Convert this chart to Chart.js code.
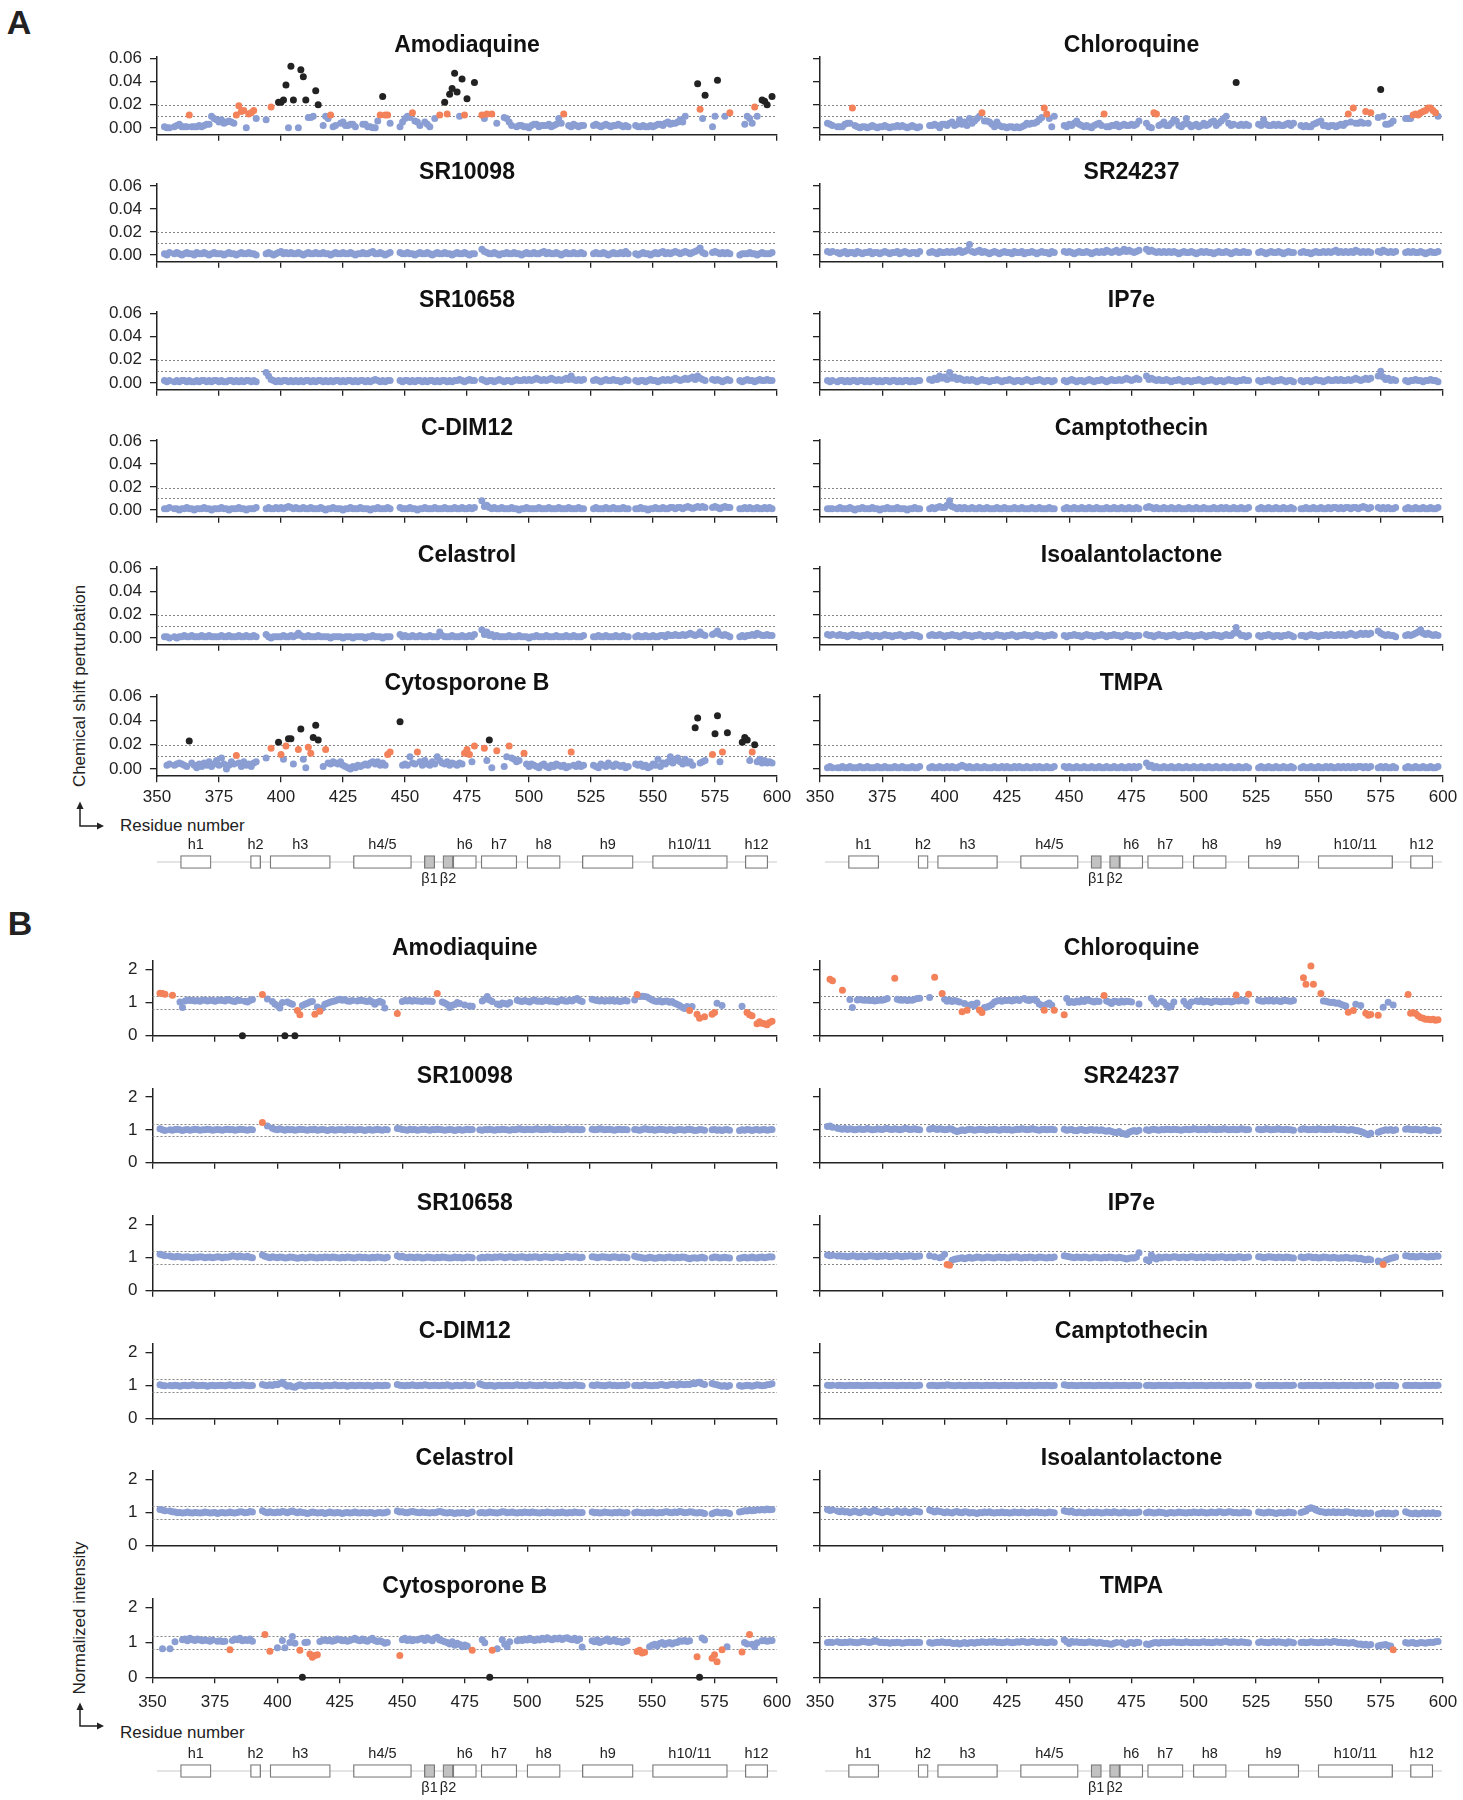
<!DOCTYPE html>
<html>
<head>
<meta charset="utf-8">
<script src="https://cdn.jsdelivr.net/npm/chart.js@4.4.1/dist/chart.umd.min.js"></script>
<style>
  body { margin: 0; width: 1463px; height: 1800px; position: relative; overflow: hidden; background: #fff;
         font-family: "Liberation Sans", Arial, Helvetica, sans-serif; color: #222; }
  canvas { position: absolute; }
  .txt { position: absolute; white-space: nowrap; }
  .letter { font-weight: bold; font-size: 34px; transform: translate(-50%, -50%); }
  .axtitle { font-size: 17px; transform: translate(-50%, -50%) rotate(-90deg); }
  .resno { font-size: 17px; transform: translateY(-50%); }
</style>
</head>
<body>

<div class="txt letter" style="left:19px; top:22px;">A</div>
<div class="txt letter" style="left:20px; top:923px;">B</div>
<div class="txt axtitle" style="left:80px; top:686px;">Chemical shift perturbation</div>
<div class="txt axtitle" style="left:80px; top:1618px;">Normalized intensity</div>
<div class="txt resno" style="left:120px; top:826px;">Residue number</div>
<div class="txt resno" style="left:120px; top:1733px;">Residue number</div>

<svg style="position:absolute; left:0; top:0;" width="140" height="1800">
  <g stroke="#222" stroke-width="1.5" fill="none">
    <path d="M80 808 V826 H98"/>
    <path d="M80 1709 V1726 H98"/>
  </g>
  <g fill="#222">
    <path d="M76.5 809 L80 801.5 L83.5 809 Z"/>
    <path d="M97 822.5 L104 826 L97 829.5 Z"/>
    <path d="M76.5 1710 L80 1702.5 L83.5 1710 Z"/>
    <path d="M97 1722.5 L104 1726 L97 1729.5 Z"/>
  </g>
</svg>

<script>
// assigned residues, in continuous stretches
const residueBlocks = [
  [353, 354, 355],
  [357, 358, 359, 360, 361, 362, 363, 364, 365, 366, 367, 368, 369, 370, 371, 372, 373, 374, 375, 376, 377, 378, 379, 380, 381, 382, 383, 384, 385, 386, 387, 388, 389, 390],
  [394, 395, 396, 397, 398, 399, 400, 401, 402, 403, 404, 405, 406, 407, 408, 409, 410, 411, 412, 413, 414, 415, 416, 417, 418, 419, 420, 421, 422, 423, 424, 425, 426, 427, 428, 429, 430, 431, 432, 433, 434, 435, 436, 437, 438, 439, 440, 441, 442, 443, 444],
  [448, 449, 450, 451, 452, 453, 454, 455, 456, 457, 458, 459, 460, 461, 462, 463, 464, 465, 466, 467, 468, 469, 470, 471, 472, 473, 474, 475, 476, 477, 478],
  [481, 482, 483, 484, 485, 486, 487, 488, 489, 490, 491, 492, 493, 494, 495, 496, 497, 498, 499, 500, 501, 502, 503, 504, 505, 506, 507, 508, 509, 510, 511, 512, 513, 514, 515, 516, 517, 518, 519, 520, 521, 522],
  [526, 527, 528, 529, 530, 531, 532, 533, 534, 535, 536, 537, 538, 539, 540],
  [543, 544, 545, 546, 547, 548, 549, 550, 551, 552, 553, 554, 555, 556, 557, 558, 559, 560, 561, 562, 563, 564, 565, 566, 567, 568, 569, 570, 571],
  [574, 575, 576, 577, 578, 579, 580, 581],
  [585, 586, 587, 588, 589, 590, 591, 592, 593, 594, 595, 596, 597, 598]
];

const residueTicks = [350, 375, 400, 425, 450, 475, 500, 525, 550, 575, 600];
const cspTicks = [0, 0.02, 0.04, 0.06];
const intensityTicks = [0, 1, 2];
const cspCutoffs = [0.0105, 0.0195];
const intensityCutoffs = [0.8, 1.19];

const ligandsLeft = ['Amodiaquine', 'SR10098', 'SR10658', 'C-DIM12', 'Celastrol', 'Cytosporone B'];
const ligandsRight = ['Chloroquine', 'SR24237', 'IP7e', 'Camptothecin', 'Isoalantolactone', 'TMPA'];

const helixLabels = ['h1', 'h2', 'h3', 'h4/5', 'β1', 'β2', 'h6', 'h7', 'h8', 'h9', 'h10/11', 'h12'];
const helixFrom = [359.5, 387.7, 395.6, 429.2, 457.8, 465.3, 469.4, 480.7, 499.2, 521.5, 549.8, 587.2];
const helixTo = [371.8, 391.8, 419.9, 452.6, 462.0, 469.4, 478.8, 495.1, 512.6, 542.0, 580.0, 596.3];

// ---- chemical shift perturbation (ppm) ----
const cspAmodiaquine = [
  [.001,.000,.000],
  [.001,.002,.003,.001,.001,.001,.011,.001,.001,.001, .002,.001,.002,.003,.003,.010,.008,.007,.005,.007, .004,.005,.006,.005,.004,.011,.019,.014,.015,.000, .012,.013,.015,.008],
  [.007,null,.018,null,null,.022,.022,.024,.037,.000, .053,.024,null,.000,.050,.044,.024,.009,.009,.010, .032,.020,null,.002,.010,.008,.011,.001,.002,null, .004,.005,.002,.002,.003,.003,.001,null,null,.003, .003,.001,.001,.000,.000,.006,.011,.027,.011,.011, .004],
  [.001,.005,.008,.010,.009,.013,.006,.005,.002,null, .005,.003,.001,null,.008,null,.011,null,.022,.012, .029,.034,.047,.031,.010,.042,.011,.025,null,null, .039],
  [.011,.008,.012,null,.012,null,.004,null,null,.009, .008,.005,.002,null,.001,.002,.002,.001,.001,.000, .002,.003,.003,.001,.002,.002,.002,.003,.001,.002, .003,.008,.004,.012,null,.002,.001,.003,.002,.001, .002,.002],
  [.002,.003,.002,.001,.002,.003,.002,.001,.002,.002, .003,.002,.001,.002,.001],
  [.002,.001,.001,.002,.001,.001,.002,.001,.002,.003, .003,.002,.004,.005,.003,.004,.004,.005,.007,.005, .010,null,null,null,null,.038,.016,.008,.028],
  [.001,.010,.041,null,null,.010,null,.013],
  [null,null,.003,.010,.008,.004,.018,.010,null,.024, .023,.020,null,.027]
];
const cspChloroquine = [
  [.004,.003,.002],
  [.001,.001,.001,.003,.004,.004,.017,.002,.001,.000, .001,.001,.000,.001,.002,.001,.000,.001,.001,.002, .001,.000,.001,.001,.002,.001,.002,.001,.000,.001, .002,.001,.000,.001],
  [.002,.002,.003,.002,.000,.003,.003,.002,.004,.005, .002,.003,.007,.003,.005,.002,.008,.004,.006,.008, .010,.013,.006,.006,.005,.003,.001,.005,.002,.001, .001,.000,.001,.001,.000,.001,.000,.001,.002,.004, .003,.004,.004,.005,.007,.009,.017,.012,.008,.001, .010],
  [.002,.001,.003,.002,.004,.006,.003,.002,.001,.002, .001,.000,.002,.003,.004,.002,.012,.001,.001,.002, .002,.003,.001,.002,.003,.002,.002,.003,.002,.003, .006],
  [.004,.001,.000,.013,.012,.002,.003,.005,.002,.002, .004,.007,.006,.002,.001,.003,.008,.003,.001,.002, .003,.001,.002,.004,.002,.003,.005,.006,.002,.004, .006,.008,.010,.004,.002,.003,.039,.002,.003,.002, .003,.002],
  [.003,.002,.007,.003,.002,.002,.003,.002,.003,.002, .002,.003,.004,.002,.004],
  [.002,.001,.002,.001,.001,.003,.004,.005,.006,.002, .002,.001,.002,.002,.001,.002,.003,.002,.004,.012, .005,.017,.004,.004,.005,.004,.014,.004,.013],
  [.009,.033,.010,.003,.003,.004,.006,null],
  [.008,.008,.008,.011,.012,.011,.013,.014,.015,.017, .017,.015,.013,.010]
];
const cspSR10098 = [
  [.001,.000,.002],
  [.001,.002,.001,.000,.001,.002,.001,.001,.000,.002, .001,.001,.002,.001,.000,.001,.002,.001,.001,.001, .000,.001,.002,.001,.001,.000,.001,.002,.001,.001, .002,.001,.001,.000],
  [.001,.002,.001,.000,.001,.002,.003,.001,.002,.001, .002,.001,.001,.002,.001,.000,.001,.002,.001,.001, .002,.001,.001,.002,.001,.001,.000,.001,.002,.001, .001,.002,.001,.001,.002,.001,.000,.001,.001,.002, .001,.001,.002,.003,.001,.001,.002,.001,.000,.001, .002],
  [.002,.001,.001,.002,.001,.001,.000,.001,.002,.001, .001,.002,.001,.000,.001,.002,.001,.001,.002,.001, .001,.000,.001,.002,.001,.001,.002,.001,.000,.001, .001],
  [.005,.003,.002,.001,.001,.002,.001,.000,.001,.001, .002,.001,.001,.002,.001,.001,.000,.001,.002,.001, .001,.002,.001,.001,.002,.003,.001,.002,.001,.001, .002,.001,.000,.001,.002,.001,.001,.002,.001,.001, .002,.001],
  [.001,.002,.001,.001,.002,.001,.000,.001,.002,.001, .001,.002,.001,.003,.001],
  [.001,.000,.001,.002,.001,.001,.000,.001,.002,.001, .002,.003,.001,.002,.001,.002,.003,.002,.001,.002, .003,.002,.001,.002,.003,.004,.006,.002,.001],
  [.002,.003,.002,.001,.002,.001,.002,.001],
  [.000,.001,.001,.001,.002,.001,.001,.000,.001,.002, .001,.001,.001,.002]
];
const cspSR24237 = [
  [.003,.002,.003],
  [.002,.001,.002,.003,.001,.002,.002,.001,.003,.002, .001,.002,.002,.003,.001,.002,.002,.001,.002,.003, .002,.001,.002,.002,.003,.001,.002,.003,.002,.001, .002,.002,.001,.003],
  [.002,.003,.002,.001,.003,.002,.002,.003,.002,.003, .002,.003,.004,.002,.003,.004,.009,.003,.002,.003, .004,.002,.003,.002,.001,.002,.003,.002,.001,.002, .003,.002,.002,.001,.003,.002,.002,.003,.001,.002, .002,.003,.002,.001,.002,.003,.002,.002,.001,.003, .002],
  [.003,.002,.003,.002,.001,.002,.003,.002,.002,.003, .002,.001,.002,.003,.002,.003,.002,.004,.003,.002, .003,.004,.002,.003,.005,.003,.004,.003,.002,.003, .004],
  [.005,.003,.004,.003,.002,.003,.002,.003,.002,.003, .002,.003,.002,.001,.002,.003,.002,.002,.003,.002, .001,.002,.003,.002,.003,.002,.002,.001,.002,.003, .002,.002,.003,.002,.001,.002,.003,.002,.002,.003, .002,.002],
  [.002,.003,.002,.001,.002,.003,.002,.002,.003,.002, .001,.002,.003,.002,.002],
  [.002,.003,.002,.002,.001,.002,.003,.002,.002,.003, .002,.003,.002,.003,.004,.002,.003,.002,.003,.002, .003,.002,.004,.003,.002,.003,.002,.003,.002],
  [.003,.002,.004,.003,.002,.003,.002,.003],
  [.002,.003,.002,.003,.002,.002,.003,.002,.001,.002, .003,.002,.002,.003]
];
const cspSR10658 = [
  [.002,.001,.002],
  [.001,.002,.001,.002,.002,.001,.002,.001,.001,.002, .001,.002,.002,.001,.002,.001,.002,.002,.001,.002, .001,.001,.002,.002,.001,.002,.001,.002,.001,.002, .002,.001,.002,.001],
  [.009,.006,.003,.002,.001,.002,.001,.002,.002,.001, .002,.001,.002,.001,.002,.001,.002,.002,.001,.002, .001,.002,.002,.001,.002,.001,.002,.001,.002,.002, .001,.002,.001,.002,.002,.001,.002,.001,.002,.002, .001,.002,.001,.002,.003,.002,.001,.002,.001,.002, .002],
  [.002,.001,.002,.002,.001,.002,.001,.002,.002,.001, .002,.001,.002,.002,.001,.002,.001,.002,.002,.001, .002,.001,.002,.002,.003,.002,.001,.002,.003,.002, .002],
  [.003,.002,.001,.002,.002,.001,.002,.003,.002,.001, .002,.002,.001,.002,.003,.002,.002,.003,.002,.003, .002,.003,.004,.003,.002,.003,.002,.003,.004,.003, .002,.003,.002,.003,.004,.003,.006,.003,.002,.003, .002,.003],
  [.002,.003,.002,.001,.002,.003,.002,.002,.003,.002, .002,.001,.002,.003,.002],
  [.002,.001,.002,.002,.001,.002,.003,.002,.002,.001, .002,.003,.002,.003,.002,.003,.004,.003,.002,.003, .004,.003,.004,.005,.003,.006,.004,.003,.002],
  [.003,.002,.003,.002,.001,.002,.003,.002],
  [.002,.001,.002,.003,.002,.002,.001,.002,.003,.002, .002,.003,.002,.002]
];
const cspIP7e = [
  [.002,.001,.002],
  [.001,.002,.002,.001,.002,.001,.002,.002,.001,.002, .002,.001,.002,.001,.002,.002,.001,.002,.001,.002, .002,.001,.002,.002,.001,.002,.001,.002,.002,.001, .002,.001,.002,.002],
  [.003,.002,.004,.003,.006,.004,.005,.003,.009,.004, .005,.003,.004,.003,.002,.003,.002,.003,.002,.001, .002,.003,.002,.002,.001,.002,.002,.003,.002,.001, .002,.002,.003,.002,.001,.002,.002,.001,.002,.003, .002,.001,.002,.002,.003,.002,.001,.002,.002,.001, .002],
  [.002,.001,.002,.003,.002,.001,.002,.002,.001,.002, .003,.002,.001,.002,.002,.003,.002,.001,.002,.003, .002,.002,.003,.002,.003,.004,.003,.002,.003,.004, .003],
  [.006,.003,.004,.003,.002,.003,.002,.002,.003,.002, .001,.002,.002,.003,.002,.001,.002,.002,.001,.002, .002,.003,.002,.001,.002,.002,.003,.002,.001,.002, .002,.001,.002,.003,.002,.002,.001,.002,.002,.003, .002,.002],
  [.002,.001,.002,.002,.003,.002,.001,.002,.002,.003, .002,.001,.002,.002,.001],
  [.002,.001,.002,.002,.001,.002,.003,.002,.002,.001, .002,.003,.002,.002,.003,.002,.003,.002,.002,.003, .002,.003,.004,.003,.002,.003,.004,.003,.004],
  [.006,.010,.005,.003,.004,.002,.003,.002],
  [.002,.001,.002,.002,.003,.002,.002,.001,.002,.002, .003,.002,.002,.001]
];
const cspCDIM12 = [
  [.001,.001,.002],
  [.001,.001,.000,.001,.001,.002,.001,.001,.000,.001, .001,.001,.002,.001,.001,.000,.001,.001,.001,.002, .001,.001,.000,.001,.001,.001,.002,.001,.001,.000, .001,.001,.001,.002],
  [.001,.002,.001,.001,.002,.001,.002,.001,.002,.003, .002,.001,.002,.001,.001,.002,.001,.001,.002,.001, .001,.001,.002,.001,.000,.001,.001,.002,.001,.001, .001,.000,.001,.001,.002,.001,.001,.001,.002,.001, .001,.001,.000,.001,.001,.002,.001,.001,.001,.002, .001],
  [.002,.001,.001,.001,.002,.001,.001,.000,.001,.001, .002,.001,.001,.001,.002,.001,.001,.001,.002,.001, .001,.001,.002,.001,.001,.002,.001,.001,.002,.001, .002],
  [.008,.003,.004,.002,.001,.002,.001,.001,.002,.001, .001,.001,.002,.001,.001,.000,.001,.001,.002,.001, .001,.001,.001,.002,.001,.001,.001,.002,.001,.001, .001,.002,.001,.001,.001,.002,.001,.001,.001,.002, .001,.001],
  [.001,.002,.001,.001,.001,.002,.001,.001,.002,.001, .001,.001,.002,.001,.001],
  [.001,.001,.002,.001,.001,.000,.001,.001,.002,.001, .001,.002,.001,.001,.002,.002,.001,.002,.002,.001, .002,.003,.002,.001,.002,.003,.002,.003,.002],
  [.002,.003,.002,.001,.002,.003,.002,.002],
  [.001,.001,.002,.001,.002,.001,.001,.002,.001,.001, .002,.001,.002,.001]
];
const cspCamptothecin = [
  [.001,.001,.001],
  [.001,.002,.001,.001,.001,.002,.001,.000,.001,.001, .002,.001,.001,.001,.002,.001,.001,.000,.001,.001, .002,.001,.001,.001,.002,.001,.001,.001,.000,.001, .001,.002,.001,.001],
  [.001,.002,.001,.002,.003,.002,.002,.004,.008,.003, .002,.001,.002,.001,.002,.001,.001,.002,.001,.001, .002,.001,.001,.002,.001,.001,.001,.002,.001,.001, .002,.001,.001,.001,.002,.001,.001,.002,.001,.001, .001,.002,.001,.001,.002,.001,.001,.001,.002,.001, .001],
  [.001,.002,.001,.001,.002,.001,.001,.002,.001,.001, .002,.001,.001,.002,.001,.001,.001,.002,.001,.001, .002,.001,.001,.002,.001,.001,.002,.001,.001,.002, .001],
  [.002,.003,.002,.001,.002,.001,.001,.002,.001,.001, .002,.001,.001,.002,.001,.001,.001,.002,.001,.001, .002,.001,.001,.002,.001,.001,.001,.002,.001,.001, .002,.001,.002,.001,.001,.002,.001,.001,.002,.001, .001,.002],
  [.001,.002,.001,.001,.002,.001,.001,.002,.001,.001, .002,.001,.001,.002,.001],
  [.001,.001,.002,.001,.001,.002,.001,.001,.002,.001, .001,.002,.001,.002,.002,.001,.002,.001,.002,.002, .001,.002,.002,.001,.002,.003,.002,.001,.002],
  [.002,.001,.002,.001,.002,.001,.001,.002],
  [.001,.002,.001,.001,.002,.001,.001,.002,.001,.001, .002,.001,.001,.002]
];
const cspCelastrol = [
  [.001,.001,.000],
  [.001,.000,.001,.001,.002,.001,.001,.002,.001,.001, .001,.002,.001,.001,.002,.001,.001,.001,.001,.002, .001,.001,.002,.001,.001,.001,.002,.001,.001,.002, .001,.001,.002,.001],
  [.003,.001,.000,.001,.001,.001,.001,.002,.001,.001, .002,.001,.002,.004,.002,.001,.001,.002,.001,.001, .001,.002,.001,.001,.001,.001,.000,.001,.001,.001, .001,.000,.001,.001,.001,.000,.001,.001,.001,.001, .000,.001,.001,.002,.001,.001,.001,.000,.001,.001, .001],
  [.003,.001,.002,.001,.001,.002,.001,.001,.002,.001, .001,.001,.002,.001,.001,.001,.005,.002,.001,.001, .001,.002,.001,.001,.001,.002,.001,.001,.002,.001, .003],
  [.007,.003,.005,.002,.003,.001,.002,.001,.001,.001, .001,.002,.001,.001,.001,.002,.001,.001,.001,.000, .001,.001,.002,.001,.001,.001,.002,.001,.001,.001, .002,.001,.001,.001,.002,.001,.001,.002,.001,.001, .001,.002],
  [.001,.001,.002,.001,.001,.002,.001,.001,.001,.002, .001,.001,.002,.001,.001],
  [.001,.002,.001,.001,.002,.001,.001,.002,.001,.001, .002,.002,.001,.003,.002,.002,.003,.002,.002,.003, .002,.003,.004,.003,.002,.003,.005,.003,.002],
  [.003,.004,.006,.003,.002,.003,.002,.001],
  [.001,.002,.001,.002,.002,.003,.002,.004,.003,.002, .002,.003,.002,.002]
];
const cspIsoalantolactone = [
  [.003,.002,.003],
  [.002,.003,.002,.002,.001,.002,.003,.002,.002,.001, .002,.002,.003,.002,.001,.002,.002,.001,.002,.003, .002,.002,.001,.002,.002,.003,.002,.001,.002,.002, .003,.002,.002,.001],
  [.002,.003,.002,.002,.003,.002,.001,.002,.002,.003, .002,.002,.001,.002,.003,.002,.002,.001,.002,.002, .003,.002,.001,.002,.002,.001,.002,.003,.002,.002, .001,.002,.002,.003,.002,.001,.002,.002,.003,.002, .002,.001,.002,.003,.002,.002,.001,.002,.002,.003, .002],
  [.002,.001,.002,.002,.003,.002,.002,.001,.002,.003, .002,.002,.001,.002,.002,.003,.002,.001,.002,.002, .003,.002,.002,.001,.002,.003,.002,.002,.001,.002, .002],
  [.003,.002,.002,.001,.002,.003,.002,.002,.001,.002, .002,.003,.002,.001,.002,.002,.003,.002,.002,.001, .002,.002,.003,.002,.001,.002,.002,.003,.002,.002, .001,.002,.003,.002,.002,.004,.009,.004,.002,.002, .001,.002],
  [.002,.001,.002,.002,.003,.002,.001,.002,.002,.001, .002,.002,.003,.002,.001],
  [.002,.002,.001,.002,.003,.002,.002,.001,.002,.002, .003,.002,.003,.002,.002,.003,.002,.003,.002,.003, .004,.003,.002,.003,.004,.003,.004,.003,.004],
  [.006,.004,.003,.002,.003,.002,.002,.001],
  [.002,.003,.002,.003,.004,.005,.007,.004,.003,.004, .003,.002,.003,.002]
];
const cspCytosporoneB = [
  [null,.003,.004],
  [.003,.004,.005,.004,.003,.002,.023,.005,.003,.001, .004,.002,.005,.003,.006,.002,.004,.007,.003,.009, .004,.000,.003,.006,.004,.011,.005,.002,.006,.003, .004,.002,.005,.006],
  [.009,null,.017,null,null,.022,.012,.008,.019,.025, .025,.004,null,.016,.033,.008,.001,.018,.013,.026, .036,.024,null,.002,.016,.005,.004,.006,.005,.004, .006,.003,.002,.001,.000,.002,.001,.003,.002,.003, .004,.003,.005,.006,.004,.006,.003,.005,.003,.012, .014],
  [.039,.003,.004,.003,.010,.005,.004,.014,.006,.003, .007,.004,.003,.006,.004,.010,.007,.005,.004,.006, .003,.005,.004,.003,.005,.004,.013,.016,.012,.006, .019],
  [null,.017,.007,.024,.001,null,.015,null,null,.002, .010,.019,.009,.008,.006,.007,null,.013,.004,.002, .004,.003,.002,.001,.003,.004,.002,.001,.003,.002, .004,.003,.002,.003,.001,.002,.014,.003,.002,.004, .002,.003],
  [.003,.002,.001,.004,.003,.002,.005,.003,.002,.004, .003,.002,.003,.001,.002],
  [.004,.003,.004,.002,.003,.001,.002,.004,.003,.008, .002,.005,.004,.006,.010,.005,.007,.009,.006,.004, .008,.005,.006,.003,.034,.042,.005,.006,.007],
  [.012,.029,.044,.006,.014,null,.030,null],
  [null,.022,.026,.024,.007,.014,.020,.006,.008,.005, .007,.005,.006,.005]
];
const cspTMPA = [
  [.001,.002,.001],
  [.001,.001,.002,.001,.001,.002,.001,.001,.001,.002, .001,.001,.002,.001,.001,.001,.002,.001,.001,.002, .001,.001,.001,.002,.001,.001,.002,.001,.001,.001, .002,.001,.001,.002],
  [.001,.002,.001,.001,.002,.001,.001,.002,.001,.002, .001,.001,.002,.003,.002,.001,.002,.001,.001,.002, .001,.001,.002,.001,.001,.001,.002,.001,.001,.002, .001,.002,.001,.001,.002,.001,.002,.001,.001,.002, .001,.001,.002,.001,.002,.001,.001,.002,.001,.001, .002],
  [.002,.001,.002,.001,.001,.002,.001,.001,.002,.001, .001,.002,.001,.001,.002,.001,.001,.002,.001,.001, .002,.001,.001,.002,.001,.001,.002,.001,.002,.001, .002],
  [.005,.002,.003,.001,.002,.001,.001,.002,.001,.001, .002,.001,.001,.002,.001,.001,.002,.001,.001,.002, .001,.001,.002,.001,.001,.002,.001,.001,.002,.001, .001,.002,.001,.001,.002,.001,.001,.002,.001,.001, .002,.001],
  [.001,.002,.001,.001,.002,.001,.001,.002,.001,.001, .002,.001,.001,.002,.001],
  [.001,.002,.001,.001,.002,.001,.001,.002,.001,.001, .002,.001,.002,.001,.001,.002,.001,.002,.001,.002, .001,.002,.001,.002,.002,.001,.002,.001,.002],
  [.001,.002,.001,.002,.001,.001,.002,.001],
  [.001,.002,.001,.001,.002,.001,.001,.002,.001,.001, .002,.001,.001,.002]
];

// ---- normalized peak intensity (0 = broadened beyond detection) ----
const intAmodiaquine = [
  [1.28,1.27,1.25],
  [null,1.22,null,null,1.02,.85,1.05,1.08,1.06,1.07, 1.05,1.06,1.04,1.07,1.08,1.05,1.06,1.07,1.04,1.06, 1.08,1.06,1.05,1.09,1.07,1.05,1.03,1.08,1.06,0, 1.04,1.02,1.06,1.09],
  [1.24,null,1.11,null,1.03,.96,.91,.84,1.0,0, 1.02,.98,.95,0,.76,.63,.91,.95,.98,1.02, 1.03,.65,.87,.74,.84,.95,.98,1.01,1.03,1.05, 1.08,1.1,1.07,1.09,1.05,1.04,1.06,null,1.05,1.07, 1.06,1.05,1.03,1.06,1.02,.95,1.01,1.04,1.0,.84, null],
  [.67,null,1.03,1.06,1.05,1.07,1.04,1.06,1.05,1.05, 1.03,1.06,1.04,1.05,1.03,null,1.27,null,1.02,.99, .94,.85,.92,.94,1.0,.97,null,.93,null,.9, .89],
  [null,1.05,1.1,1.18,1.08,1.03,null,.96,.93,.99, .97,.95,1.0,null,null,1.07,1.05,1.03,1.06,1.04, 1.02,1.06,1.08,1.04,1.05,1.03,1.06,1.07,1.04,1.05, 1.03,1.02,1.06,1.08,1.05,1.04,1.07,1.05,1.09,1.12, 1.06,1.03],
  [1.1,1.08,1.06,1.05,1.07,1.04,1.06,1.05,1.08,1.04, 1.06,1.03,1.05,1.07,1.05],
  [1.08,1.24,1.18,1.19,1.18,1.17,1.12,1.08,1.05,1.03, 1.06,1.02,1.04,1.05,1.01,1.03,.98,.95,.91,.86, .82,.88,.76,.88,null,.65,.53,null,.57],
  [.65,.7,.98,null,.91,null,null,null],
  [null,.89,null,.7,.63,.6,null,.36,.42,.38, .36,.33,.4,.44]
];
const intChloroquine = [
  [null,1.7,1.66],
  [null,null,1.37,null,null,1.09,.85,null,1.08,1.09, 1.08,1.07,1.08,1.06,1.07,1.05,1.06,1.08,1.07,1.09, 1.12,null,null,1.73,1.1,1.08,1.07,1.09,1.06,1.08, 1.07,1.1,1.12,1.13],
  [1.15,null,1.76,null,null,1.27,1.1,1.04,1.08,1.03, 1.06,1.04,1.02,.72,.97,.77,.92,.95,.9,.99, .78,.7,.85,.87,.9,.94,1.02,1.05,1.06,1.04, 1.07,1.06,1.08,1.05,1.07,1.1,1.06,null,1.12,1.08, 1.06,1.09,1.1,1.05,.96,.92,.77,.95,.99,.92, .77],
  [.63,1.12,1.0,1.03,1.0,1.05,1.02,1.07,1.03,1.09, 1.06,1.04,1.02,1.05,1.03,null,1.21,1.05,1.02,.97, 1.04,1.03,1.0,1.05,1.02,1.04,1.03,1.02,null,null, .96],
  [null,null,1.13,1.04,.96,null,1.03,1.0,.92,.86, .9,1.02,null,null,null,1.04,.95,.9,1.02,null, 1.05,1.03,1.06,1.02,1.04,1.03,1.0,1.04,1.05,1.03, 1.02,1.04,1.03,1.05,1.02,1.04,1.23,1.05,1.08,1.06, 1.04,1.25],
  [1.07,1.05,1.04,1.06,1.05,1.07,1.04,1.06,1.05,1.03, 1.07,1.06,1.05,1.04,1.06],
  [null,1.75,1.55,null,2.1,1.55,null,null,1.27,1.05, 1.04,1.02,1.0,1.01,.98,.99,.95,.92,.9,.71, null,.76,.95,null,.91,null,.68,.62,.64],
  [.62,null,.86,null,1.01,null,.93,null],
  [null,1.24,.68,.7,.67,.6,.55,.53,.5,.5, .48,.5,.47,.48]
];
const intSR10098 = [
  [1.03,1.0,.98],
  [1.0,.99,1.01,1.02,1.0,.98,1.0,1.01,.99,1.0, 1.02,1.01,.99,1.0,1.0,1.02,1.01,.99,1.0,1.01, 1.0,.99,1.01,1.02,1.0,1.01,.99,1.0,1.02,1.01, 1.0,.99,1.01,1.0],
  [1.22,null,1.12,null,1.05,1.02,1.0,1.03,1.01,.99, 1.02,1.0,1.01,.99,1.0,1.02,1.01,1.0,.99,1.01, 1.0,1.02,.99,1.0,1.01,1.0,.98,1.0,1.01,.99, 1.0,1.01,1.0,.99,1.02,1.0,1.01,.99,1.0,1.01, 1.0,.98,1.0,1.01,.99,1.0,1.02,1.0,.99,1.01, 1.0],
  [1.04,1.03,1.01,1.0,.99,1.02,1.0,1.01,.99,1.0, 1.01,1.02,1.0,.99,1.01,1.0,1.02,1.01,1.0,.99, 1.0,1.01,1.0,.98,1.0,1.01,.99,1.0,1.02,1.0, 1.01],
  [1.0,.99,1.01,1.0,1.02,1.0,.99,1.01,1.0,1.02, 1.01,1.0,.99,1.01,1.0,1.02,1.03,1.01,1.0,1.02, 1.01,1.0,1.02,1.03,1.01,1.0,1.02,1.01,1.03,1.02, 1.0,1.01,1.02,1.0,1.01,1.03,1.02,1.0,1.01,1.02, 1.0,1.01],
  [1.02,1.0,1.01,1.03,1.02,1.0,1.01,1.02,1.0,.99, 1.01,1.02,1.0,1.01,1.0],
  [1.01,1.0,.99,1.01,1.03,1.02,1.0,1.01,.99,1.0, 1.02,1.01,1.0,.99,1.01,1.0,.98,1.0,1.01,1.0, .99,1.01,1.02,1.0,.98,.99,1.01,1.0,.99],
  [1.0,1.01,.99,1.0,.98,1.0,1.01,.99],
  [.98,1.0,.99,1.01,1.0,.98,1.0,1.01,.99,1.0, 1.01,.99,1.0,1.01]
];
const intSR24237 = [
  [1.1,1.12,1.08],
  [1.05,1.03,1.02,1.04,1.01,1.03,1.02,1.0,1.02,1.03, 1.01,1.02,1.04,1.02,1.0,1.01,1.03,1.02,1.01,1.03, 1.04,1.02,1.01,1.03,1.02,1.0,1.02,1.04,1.03,1.01, 1.02,1.03,1.01,1.0],
  [1.02,1.04,1.03,1.01,1.03,1.02,1.0,1.01,1.03,1.02, .98,.95,.97,1.0,.98,1.0,1.02,1.01,.99,1.0, 1.02,1.01,1.0,.99,1.01,1.0,1.02,1.0,.99,1.01, 1.02,1.0,1.01,.99,1.0,1.02,1.01,1.03,1.02,1.0, 1.01,1.03,1.02,1.0,.99,1.01,1.02,1.0,1.01,1.02, 1.0],
  [1.02,.99,1.0,1.01,.98,.97,1.0,1.01,.99,.98, 1.0,1.01,.99,1.0,.98,1.0,.97,.96,.98,.95, .93,.92,.95,.9,.88,.86,.93,.96,.98,.95, .99],
  [1.0,.98,1.01,1.02,1.0,.99,1.01,1.0,1.02,1.01, 1.0,1.02,1.01,1.0,.99,1.01,1.02,1.0,1.01,1.03, 1.02,1.0,1.01,1.02,1.0,1.03,1.02,1.01,1.0,1.02, 1.01,1.03,1.02,1.0,1.01,1.02,1.0,1.01,1.03,1.02, 1.0,1.01],
  [1.02,1.0,1.01,1.03,1.02,1.0,1.01,1.02,1.03,1.01, 1.0,1.02,1.01,1.0,.99],
  [1.01,1.03,1.02,1.0,1.01,1.02,1.0,1.03,1.02,1.01, 1.0,1.02,1.01,1.03,1.02,1.0,1.01,1.02,1.0,.99, 1.01,1.0,.98,.97,.95,.92,.88,.85,.9],
  [.93,.96,.98,1.0,.99,1.01,.98,1.0],
  [1.02,1.03,1.01,1.0,1.02,1.01,.99,1.0,1.02,.98, .97,1.0,.99,.98]
];
const intSR10658 = [
  [1.1,1.08,1.06],
  [1.05,1.03,1.02,1.04,1.03,1.01,1.02,1.03,1.01,1.0, 1.02,1.01,1.03,1.02,1.0,1.01,1.02,1.0,1.01,1.03, 1.02,1.0,1.02,1.01,1.03,1.06,1.04,1.02,1.05,1.03, 1.02,1.04,1.01,1.0],
  [1.08,1.04,1.02,1.0,1.03,1.01,1.0,1.02,1.01,.99, 1.0,1.02,1.01,1.0,.98,1.0,1.01,.99,1.0,1.02, 1.01,1.0,.99,1.01,1.0,1.02,1.01,1.0,1.02,1.01, 1.0,.99,1.01,1.0,1.02,1.01,1.0,.99,1.01,1.02, 1.0,1.01,1.0,.99,1.01,1.0,1.02,1.01,1.0,.99, 1.01],
  [1.06,1.02,1.04,1.01,1.0,1.02,1.01,1.0,1.02,1.01, .99,1.0,1.02,1.01,1.0,.99,1.01,1.0,1.02,1.01, 1.0,.99,1.0,1.02,1.0,1.01,.99,1.0,1.02,1.01, 1.0],
  [.99,1.01,1.0,1.02,1.01,1.0,1.02,1.01,1.03,1.02, 1.0,1.01,1.03,1.02,1.0,1.01,1.02,1.03,1.01,1.0, 1.02,1.01,1.03,1.02,1.0,1.01,1.03,1.02,1.01,1.0, 1.02,1.03,1.01,1.0,1.02,1.04,1.02,1.01,1.03,1.02, 1.0,1.01],
  [1.03,1.02,1.0,1.01,1.03,1.02,1.01,1.0,1.02,1.03, 1.01,1.0,1.02,1.01,1.0],
  [1.04,1.02,1.01,1.0,.98,.99,1.01,1.0,.98,.99, 1.01,1.0,.99,1.01,1.02,1.0,.99,1.01,1.0,1.02, 1.01,.99,.97,.99,1.0,.98,1.0,1.01,.99],
  [1.0,1.02,1.01,.99,1.0,1.01,1.0,.99],
  [.98,1.0,1.01,.99,1.0,1.02,1.0,.99,1.01,1.02, 1.0,1.01,1.03,1.02]
];
const intIP7e = [
  [1.08,1.06,1.07],
  [1.05,1.06,1.04,1.05,1.03,1.04,1.06,1.05,1.03,1.04, 1.05,1.03,1.04,1.06,1.05,1.04,1.03,1.05,1.04,1.06, 1.05,1.03,1.04,1.05,1.06,1.04,1.03,1.05,1.04,1.06, 1.05,1.03,1.04,1.05],
  [1.06,null,1.03,null,1.0,1.02,1.1,.79,.77,.92, .95,.97,.98,1.0,.97,.99,1.01,.98,1.0,1.02, 1.01,.99,1.0,1.02,1.01,1.0,.99,1.01,1.02,1.0, 1.01,.99,1.0,1.02,1.01,1.03,1.0,.99,1.01,1.0, 1.02,1.01,.99,1.0,1.02,1.01,1.0,.99,1.01,1.0, 1.02],
  [1.06,1.04,1.03,1.01,1.0,1.02,1.01,1.0,1.02,1.01, .99,1.0,1.02,1.01,1.0,.99,1.01,1.0,1.02,1.01, 1.0,.99,1.01,1.0,.98,.96,.98,1.0,.99,1.02, 1.15],
  [.94,.9,1.08,1.0,.96,1.02,.99,1.01,1.02,1.0, 1.01,1.03,1.02,1.0,1.01,1.02,1.0,1.01,1.03,1.02, 1.0,1.01,1.02,1.0,1.03,1.02,1.01,1.0,1.02,1.01, 1.03,1.02,1.0,1.01,1.02,1.0,1.01,1.03,1.02,1.0, 1.01,1.02],
  [1.03,1.02,1.0,1.01,1.03,1.02,1.01,1.0,1.02,1.01, 1.0,1.02,1.01,1.0,.99],
  [1.02,1.0,1.01,1.03,1.02,1.0,1.01,.99,1.0,1.02, 1.01,1.0,.99,1.01,1.0,.98,1.0,.99,1.01,1.0, .98,.99,1.0,.97,.98,.95,.93,.96,.94],
  [.9,.88,.79,.92,.95,.98,1.0,1.02],
  [1.06,1.05,1.03,1.04,1.02,1.03,1.05,1.04,1.03,1.02, 1.04,1.03,1.05,1.04]
];
const intCDIM12 = [
  [1.02,1.0,.99],
  [1.0,.99,1.01,1.0,.98,1.0,1.01,.99,1.0,1.02, 1.01,.99,1.0,1.01,1.0,.98,1.0,1.01,.99,1.0, 1.01,1.0,.99,1.01,1.02,1.0,.99,1.01,1.0,1.02, 1.01,1.0,.99,1.0],
  [1.03,1.01,1.0,1.02,1.0,1.04,1.02,1.06,1.1,1.03, .98,1.0,.96,.95,.99,1.02,1.0,.98,1.0,1.01, .99,1.0,1.01,1.0,.98,1.0,1.01,.99,1.0,1.02, 1.0,.99,1.01,1.0,.98,1.0,1.01,.99,1.0,1.01, 1.0,.99,1.01,1.0,.98,1.0,1.01,1.0,.99,1.01, 1.0],
  [1.03,1.01,1.0,.99,1.01,1.0,1.02,1.0,.99,1.01, 1.0,1.02,1.01,.99,1.0,1.01,1.0,.99,1.01,1.0, 1.02,1.0,.98,1.0,1.01,.99,1.0,1.02,1.0,.99, 1.0],
  [1.05,1.02,1.0,.99,1.01,1.0,.98,1.0,1.01,.99, 1.0,1.01,1.0,.99,1.01,1.02,1.0,1.01,.99,1.0, 1.02,1.01,1.0,.99,1.01,1.0,1.02,1.01,1.0,.99, 1.01,1.0,1.02,1.01,1.0,.99,1.01,1.0,1.02,1.01, 1.0,.99],
  [1.01,1.0,1.02,1.01,1.0,.99,1.01,1.02,1.0,1.01, .99,1.0,1.01,1.0,1.02],
  [1.0,1.01,.99,1.0,1.02,1.01,1.0,.99,1.01,1.0, 1.02,1.03,1.01,1.0,1.02,1.04,1.03,1.01,1.05,1.03, 1.02,1.04,1.03,1.06,1.05,1.08,1.1,1.05,1.03],
  [1.06,1.04,1.02,1.0,.98,1.0,.97,1.0],
  [1.0,.98,.99,1.01,1.0,.98,1.0,1.02,1.01,.99, 1.0,1.02,1.03,1.05]
];
const intCamptothecin = [
  [1.01,1.0,1.01],
  [1.0,1.01,1.0,.99,1.0,1.01,1.0,1.0,1.01,1.0, .99,1.0,1.01,1.0,1.0,1.01,1.0,.99,1.0,1.01, 1.0,1.0,1.01,1.0,.99,1.0,1.01,1.0,1.0,1.01, 1.0,.99,1.0,1.01],
  [1.0,1.01,1.0,.99,1.0,1.01,1.0,1.02,1.01,1.0, .99,1.0,1.01,1.0,.99,1.0,1.01,1.0,1.0,1.01, 1.0,.99,1.0,1.01,1.0,1.0,1.01,1.0,.99,1.0, 1.01,1.0,1.0,1.01,1.0,.99,1.0,1.01,1.0,1.0, 1.01,1.0,.99,1.0,1.01,1.0,1.0,1.01,1.0,.99, 1.0],
  [1.02,1.01,1.0,1.01,1.0,.99,1.0,1.01,1.0,1.0, 1.01,1.0,.99,1.0,1.01,1.0,1.0,1.01,1.0,.99, 1.0,1.01,1.0,1.0,1.01,1.0,.99,1.0,1.01,1.0, 1.0],
  [1.0,1.01,1.0,.99,1.0,1.01,1.0,1.0,1.01,1.0, .99,1.0,1.01,1.0,1.0,1.01,1.0,.99,1.0,1.01, 1.0,1.0,1.01,1.0,.99,1.0,1.01,1.0,1.0,1.01, 1.0,.99,1.0,1.01,1.0,1.0,1.01,1.0,.99,1.0, 1.01,1.0],
  [1.01,1.0,.99,1.0,1.01,1.0,1.0,1.01,1.0,.99, 1.0,1.01,1.0,1.0,1.01],
  [1.0,.99,1.0,1.01,1.0,1.0,1.01,1.0,.99,1.0, 1.01,1.0,1.0,1.01,1.0,.99,1.0,1.01,1.0,1.0, 1.01,1.0,.99,1.0,1.01,1.0,1.0,1.01,1.0],
  [.99,1.0,1.01,1.0,1.0,1.01,1.0,.99],
  [1.0,1.01,1.0,1.0,1.01,1.0,.99,1.0,1.01,1.0, 1.0,1.01,1.0,1.01]
];
const intCelastrol = [
  [1.1,1.08,1.06],
  [1.05,1.03,1.02,1.0,1.01,.99,1.0,1.02,1.0,.99, 1.01,1.0,.99,1.0,1.02,1.01,.99,1.0,1.01,.98, 1.0,1.01,.99,1.0,1.02,1.0,.99,1.01,1.03,1.02, 1.0,1.01,1.04,1.02],
  [1.06,1.02,1.0,1.03,1.01,1.0,1.02,1.01,1.04,1.02, 1.0,1.03,1.05,1.02,1.0,1.03,1.01,1.0,.98,1.0, 1.02,1.01,.99,1.0,1.01,.98,1.0,1.02,1.0,.99, 1.01,1.0,.98,1.0,1.01,.99,1.0,1.02,1.0,.99, 1.01,1.0,.99,1.01,1.0,.98,1.0,1.01,.99,1.0, 1.02],
  [1.05,1.02,1.03,1.01,1.0,1.02,1.04,1.02,1.01,1.0, 1.02,1.01,1.0,.99,1.01,1.0,1.02,1.04,1.02,1.0, .99,1.01,1.0,.98,1.0,.99,1.01,1.0,.98,1.0, 1.02],
  [1.0,1.01,.99,1.0,1.02,1.01,1.0,.99,1.01,1.03, 1.02,1.0,1.01,1.02,1.0,.99,1.01,1.0,1.02,1.01, 1.0,1.02,1.01,1.0,.99,1.01,1.0,1.02,1.01,1.0, .99,1.01,1.0,1.02,1.0,.99,1.01,1.0,1.02,1.01, 1.0,1.01],
  [1.02,1.0,1.01,.99,1.0,1.02,1.01,1.0,.99,1.01, 1.0,1.02,1.0,.99,1.01],
  [1.0,1.02,1.01,1.0,.99,1.01,1.0,1.02,1.0,.99, 1.01,1.0,1.02,1.03,1.01,1.0,1.02,1.01,1.04,1.02, 1.0,1.01,1.03,1.02,1.0,.99,1.01,1.0,.98],
  [.97,1.0,1.02,1.0,.99,1.01,1.0,.98],
  [1.02,1.04,1.06,1.05,1.08,1.06,1.07,1.09,1.08,1.1, 1.08,1.11,1.09,1.1]
];
const intIsoalantolactone = [
  [1.1,1.07,1.09],
  [1.05,1.03,1.06,1.02,1.04,1.0,1.03,1.05,1.02,1.0, 1.04,1.06,1.03,1.01,1.05,1.08,1.04,1.02,1.0,1.03, 1.05,1.02,1.0,1.04,1.06,1.03,1.01,1.05,1.02,1.0, 1.03,1.06,1.04,1.02],
  [1.08,1.05,1.02,1.06,1.04,1.02,1.0,1.03,1.01,.99, 1.02,1.04,1.01,1.0,1.03,1.02,.99,1.01,1.0,.98, 1.01,1.0,1.02,1.01,1.03,1.0,.99,1.01,1.0,1.02, 1.0,1.01,.99,1.0,1.02,1.01,1.0,1.02,1.01,.99, 1.0,1.02,1.01,1.03,1.0,1.01,.99,1.0,1.02,1.01, 1.0],
  [1.06,1.04,1.02,1.05,1.01,1.0,1.02,1.01,.99,1.0, 1.02,1.01,1.0,1.02,1.01,.99,1.0,1.02,1.01,1.0, 1.03,1.01,.99,1.0,1.02,1.01,.99,1.0,1.01,1.0, 1.02],
  [1.0,1.02,1.01,.99,1.0,1.02,1.01,1.0,.98,1.0, 1.01,.99,1.0,1.02,1.01,1.0,.99,1.01,1.0,1.02, 1.01,1.0,1.02,1.01,.99,1.0,1.02,1.01,1.0,1.03, 1.02,1.0,1.01,1.03,1.02,1.0,1.01,.99,1.0,1.02, 1.01,1.0],
  [1.02,1.01,.99,1.0,1.02,1.01,1.0,.98,1.0,1.01, .99,1.0,1.02,1.01,1.0],
  [1.01,1.03,1.05,1.12,1.15,1.13,1.08,1.05,1.03,1.02, 1.0,1.02,1.01,1.03,1.0,1.02,1.01,1.0,1.03,1.02, 1.0,1.01,.98,1.0,.99,.97,1.0,.98,.99],
  [.96,.98,1.0,.97,.99,.98,.96,.99],
  [1.03,1.0,.98,.97,.99,.96,.98,1.0,.97,.99, .98,1.0,.97,.98]
];
const intCytosporoneB = [
  [null,.82,null],
  [.82,null,1.02,null,null,1.08,1.1,1.05,1.12,1.08, 1.06,1.1,1.07,1.05,1.08,1.06,1.04,1.07,null,1.04, 1.05,1.03,1.04,null,.79,1.06,1.1,1.08,1.12,1.05, 1.08,1.06,1.1,1.04],
  [null,1.23,null,.75,null,null,.85,null,1.06,.85, null,1.0,1.17,.98,null,.78,0,1.0,1.01,.67, .58,.63,.65,1.03,1.06,1.08,1.05,1.07,1.04,1.06, 1.1,1.08,1.05,1.07,1.04,1.06,1.09,1.12,1.07,1.05, 1.1,1.06,1.04,1.08,1.12,1.06,1.03,1.05,1.02,.98, 1.0],
  [null,.63,1.08,1.12,1.06,1.1,1.05,1.08,1.07,1.1, 1.12,1.06,1.14,1.09,1.05,1.12,1.15,1.07,1.05,1.02, 1.0,.96,1.02,.92,.98,.94,.88,.93,.9,null, .78],
  [null,1.08,.99,null,0,.78,null,.82,null,1.08, .95,.88,1.02,null,null,1.05,1.08,1.06,1.1,1.07, 1.12,1.08,1.06,1.1,1.07,1.12,1.09,1.14,1.1,1.08, 1.12,1.1,1.13,1.09,1.12,1.14,1.1,1.08,1.12,1.06, 1.1,.87],
  [1.05,1.02,1.08,1.0,1.04,1.06,1.1,1.03,1.05,1.08, 1.02,1.04,1.0,1.03,1.05],
  [null,.74,.78,.7,.72,null,.88,.92,.95,.9, .97,1.0,.94,.98,1.0,.96,.99,1.0,1.05,1.04, 1.06,1.03,1.05,null,null,.59,0,1.13,1.07],
  [.55,.65,.45,null,.79,null,.88,null],
  [null,.73,1.0,.96,1.23,.95,.88,.99,null,1.05, 1.06,1.04,1.05,1.06]
];
const intTMPA = [
  [1.0,1.01,1.0],
  [1.02,1.0,.99,1.01,1.0,1.02,1.01,1.0,.99,1.01, 1.03,1.02,1.01,1.0,1.02,1.06,1.03,1.0,1.01,.99, 1.0,.98,1.0,.99,1.01,1.0,.98,.99,1.0,1.01, 1.0,.99,1.01,1.0],
  [1.0,.98,.99,1.01,1.0,1.02,1.0,.99,1.01,.98, .97,.99,.96,.98,1.0,.97,.99,1.0,.98,1.01, 1.0,1.02,1.01,1.0,1.02,1.01,1.03,1.0,1.01,.99, 1.0,1.02,1.01,.99,1.0,1.02,1.01,1.03,1.02,1.0, 1.01,1.03,1.02,1.0,1.01,1.02,1.0,.99,1.01,1.02, 1.0],
  [1.08,1.02,.97,1.03,1.01,1.02,1.0,1.01,.99,1.0, 1.02,1.01,1.0,.98,1.0,.99,.97,.98,.96,.95, .98,1.0,null,1.0,.96,.94,.99,1.0,.97,1.01, 1.0],
  [.96,.94,.97,.99,1.0,.98,1.01,1.0,.99,1.0, 1.01,1.02,1.0,1.01,.99,1.0,1.02,1.0,.99,1.01, 1.0,.99,1.01,1.02,1.0,1.01,.99,1.0,1.02,1.01, 1.0,1.02,1.03,1.01,1.0,1.02,1.01,1.0,1.02,1.01, 1.0,.99],
  [1.0,1.02,1.01,1.0,.99,1.01,1.03,1.0,1.02,1.01, 1.0,.98,1.02,1.01,.99],
  [1.0,1.01,.99,1.0,1.02,1.01,1.0,.99,1.01,1.0, 1.02,1.01,1.0,1.03,1.02,1.0,1.01,.99,1.0,.98, .99,1.0,.97,.95,.96,.93,.95,.92,.94],
  [.9,.92,.93,.94,.91,.9,.79,null],
  [1.0,.98,.99,1.0,.97,.98,1.0,.99,.98,1.0, 1.01,1.0,1.02,1.03]
];

const cspByLigand = {
  'Amodiaquine': cspAmodiaquine, 'Chloroquine': cspChloroquine, 'SR10098': cspSR10098, 'SR24237': cspSR24237,
  'SR10658': cspSR10658, 'IP7e': cspIP7e, 'C-DIM12': cspCDIM12, 'Camptothecin': cspCamptothecin,
  'Celastrol': cspCelastrol, 'Isoalantolactone': cspIsoalantolactone, 'Cytosporone B': cspCytosporoneB, 'TMPA': cspTMPA
};
const intensityByLigand = {
  'Amodiaquine': intAmodiaquine, 'Chloroquine': intChloroquine, 'SR10098': intSR10098, 'SR24237': intSR24237,
  'SR10658': intSR10658, 'IP7e': intIP7e, 'C-DIM12': intCDIM12, 'Camptothecin': intCamptothecin,
  'Celastrol': intCelastrol, 'Isoalantolactone': intIsoalantolactone, 'Cytosporone B': intCytosporoneB, 'TMPA': intTMPA
};

Chart.defaults.font.family = '"Liberation Sans", Arial, Helvetica, sans-serif';
Chart.defaults.color = '#222';

const BLUE = '#8a9ed3';
const ORANGE = '#f3815a';
const BLACK = '#222222';
const INK = '#222';
const HIDDEN = 'rgba(0,0,0,0)';

const ROW_STEP = 127.6;
const LEFT_END = 777;
const RIGHT_START = 820;
const RIGHT_END = 1443;

const sections = [
  { byLigand: cspByLigand, top: 56.5, height: 81.7, leftStart: 157, min: -0.006, max: 0.0615,
    ticks: cspTicks, fmt: v => v.toFixed(2), cut: cspCutoffs, csp: true, xPad: 5, titleGap: 11 },
  { byLigand: intensityByLigand, top: 960.7, height: 78.6, leftStart: 152.5, min: 0, max: 2.26,
    ticks: intensityTicks, fmt: v => String(v), cut: intensityCutoffs, csp: false, xPad: 9, titleGap: 12 }
];

function pointsOf(blocks) {
  const pts = [];
  residueBlocks.forEach((res, b) => {
    res.forEach((r, i) => {
      const v = blocks[b] ? blocks[b][i] : null;
      if (v !== null && v !== undefined) pts.push({ x: r, y: v });
    });
  });
  return pts;
}

function classify(points, sec) {
  const black = [], orange = [], blue = [];
  const [lo, hi] = sec.cut;
  points.forEach(p => {
    if (sec.csp) {
      if (p.y > hi) black.push(p);
      else if (p.y > lo) orange.push(p);
      else blue.push(p);
    } else {
      if (p.y === 0) black.push(p);
      else if (p.y > hi || p.y < lo) orange.push(p);
      else blue.push(p);
    }
  });
  return [black, orange, blue];
}

const cutoffLines = {
  id: 'cutoffLines',
  beforeDatasetsDraw(chart, args, opts) {
    const { ctx, chartArea: a } = chart;
    const y = chart.scales.y;
    ctx.save();
    ctx.strokeStyle = '#858585';
    ctx.lineWidth = 1;
    ctx.setLineDash([2, 2]);
    opts.values.forEach(v => {
      const py = Math.round(y.getPixelForValue(v)) + 0.5;
      ctx.beginPath();
      ctx.moveTo(a.left, py);
      ctx.lineTo(a.right, py);
      ctx.stroke();
    });
    ctx.restore();
  }
};

const panelTitle = {
  id: 'panelTitle',
  afterDraw(chart, args, opts) {
    const { ctx, chartArea: a } = chart;
    ctx.save();
    ctx.font = 'bold 23px "Liberation Sans", Arial, Helvetica, sans-serif';
    ctx.fillStyle = '#111';
    ctx.textAlign = 'center';
    ctx.textBaseline = 'middle';
    ctx.fillText(opts.text, (a.left + a.right) / 2, a.top - opts.gap);
    ctx.restore();
  }
};

function addCanvas(left, top, w, h) {
  const cv = document.createElement('canvas');
  cv.width = w;
  cv.height = h;
  cv.style.left = left + 'px';
  cv.style.top = top + 'px';
  cv.style.width = w + 'px';
  cv.style.height = h + 'px';
  document.body.appendChild(cv);
  return cv;
}

function makePanel(sec, col, row, name) {
  const plotTop = sec.top + row * ROW_STEP;
  const plotLeft = col === 0 ? sec.leftStart : RIGHT_START;
  const plotRight = col === 0 ? LEFT_END : RIGHT_END;
  const bottomRow = row === 5;
  const cvLeft = col === 0 ? 80 : 790;
  const cvTop = Math.floor(plotTop) - 34;
  const padTop = plotTop - cvTop;
  const xH = bottomRow ? 40 : 12;
  const w = Math.ceil(plotRight - cvLeft) + 28;
  const h = Math.ceil(padTop + sec.height + xH) + 2;
  const cv = addCanvas(cvLeft, cvTop, w, h);

  const yW = plotLeft - cvLeft;
  const [black, orange, blue] = classify(pointsOf(sec.byLigand[name]), sec);
  const ds = (data, color) => ({
    data, backgroundColor: color, borderWidth: 0,
    pointRadius: 3.5, pointHoverRadius: 3.5, clip: false
  });

  new Chart(cv, {
    type: 'scatter',
    data: { datasets: [ds(black, BLACK), ds(orange, ORANGE), ds(blue, BLUE)] },
    options: {
      responsive: false,
      animation: false,
      devicePixelRatio: 1,
      events: [],
      layout: { padding: { top: padTop, left: 0, right: w - (plotRight - cvLeft), bottom: h - padTop - sec.height - xH } },
      scales: {
        x: {
          type: 'linear', min: 350, max: 600,
          afterBuildTicks: s => { s.ticks = residueTicks.map(v => ({ value: v })); },
          afterFit: s => { s.height = xH; },
          grid: { display: true, drawOnChartArea: false, drawTicks: true, tickLength: 6, color: INK, lineWidth: 1.3 },
          border: { display: true, color: INK, width: 1.5 },
          ticks: { color: bottomRow ? INK : HIDDEN, font: { size: 17 }, padding: sec.xPad, maxRotation: 0, autoSkip: false }
        },
        y: {
          type: 'linear', min: sec.min, max: sec.max,
          afterBuildTicks: s => { s.ticks = sec.ticks.map(v => ({ value: v })); },
          afterFit: s => { s.width = yW; },
          grid: { display: true, drawOnChartArea: false, drawTicks: true, tickLength: 7, color: INK, lineWidth: 1.3 },
          border: { display: true, color: INK, width: 1.5 },
          ticks: { color: col === 0 ? INK : HIDDEN, font: { size: 17 }, padding: 8, callback: v => sec.fmt(v) }
        }
      },
      plugins: {
        legend: { display: false },
        tooltip: { enabled: false },
        cutoffLines: { values: sec.cut },
        panelTitle: { text: name, gap: sec.titleGap }
      }
    },
    plugins: [cutoffLines, panelTitle]
  });
}

const helixDecor = {
  id: 'helixDecor',
  beforeDatasetsDraw(chart) {
    const { ctx } = chart;
    const x = chart.scales.x;
    const cy = (chart.chartArea.top + chart.chartArea.bottom) / 2;
    ctx.save();
    ctx.strokeStyle = '#e4e4e4';
    ctx.lineWidth = 2;
    ctx.beginPath();
    ctx.moveTo(x.getPixelForValue(350), cy);
    ctx.lineTo(x.getPixelForValue(600), cy);
    ctx.stroke();
    ctx.restore();
  },
  afterDatasetsDraw(chart) {
    const { ctx } = chart;
    ctx.save();
    ctx.font = '14.5px "Liberation Sans", Arial, Helvetica, sans-serif';
    ctx.fillStyle = INK;
    ctx.textAlign = 'center';
    ctx.textBaseline = 'middle';
    chart.data.datasets.forEach((d, k) => {
      const el = chart.getDatasetMeta(k).data[0];
      const { x, base, y } = el.getProps(['x', 'base', 'y'], true);
      const cx = (x + base) / 2;
      const isStrand = d.label.startsWith('β');
      ctx.fillText(d.label, cx, isStrand ? y + 17 : y - 16.7);
    });
    ctx.restore();
  }
};

function makeHelices(plotLeft, plotRight, centerY) {
  const cvLeft = Math.floor(plotLeft) - 30;
  const w = Math.ceil(plotRight - cvLeft) + 30;
  const cvTop = Math.round(centerY) - 30;
  const cv = addCanvas(cvLeft, cvTop, w, 60);
  new Chart(cv, {
    type: 'bar',
    data: {
      labels: ['LBD'],
      datasets: helixLabels.map((name, k) => ({
        label: name,
        data: [[helixFrom[k], helixTo[k]]],
        backgroundColor: name.startsWith('β') ? '#c2c2c2' : '#ffffff',
        borderColor: '#7a7a7a',
        borderWidth: 1.3,
        borderSkipped: false,
        grouped: false,
        barThickness: 13
      }))
    },
    options: {
      indexAxis: 'y',
      responsive: false,
      animation: false,
      devicePixelRatio: 1,
      events: [],
      layout: { padding: { left: plotLeft - cvLeft, right: cvLeft + w - plotRight, top: 0, bottom: 0 } },
      scales: {
        x: { type: 'linear', min: 350, max: 600, display: false },
        y: { display: false }
      },
      plugins: { legend: { display: false }, tooltip: { enabled: false } }
    },
    plugins: [helixDecor]
  });
}

sections.forEach(sec => {
  for (let row = 0; row < 6; row++) {
    makePanel(sec, 0, row, ligandsLeft[row]);
    makePanel(sec, 1, row, ligandsRight[row]);
  }
});

makeHelices(157, LEFT_END, 862.4);
makeHelices(825, 1442, 862.4);
makeHelices(157, LEFT_END, 1770.8);
makeHelices(825, 1442, 1770.8);
</script>
</body>
</html>
